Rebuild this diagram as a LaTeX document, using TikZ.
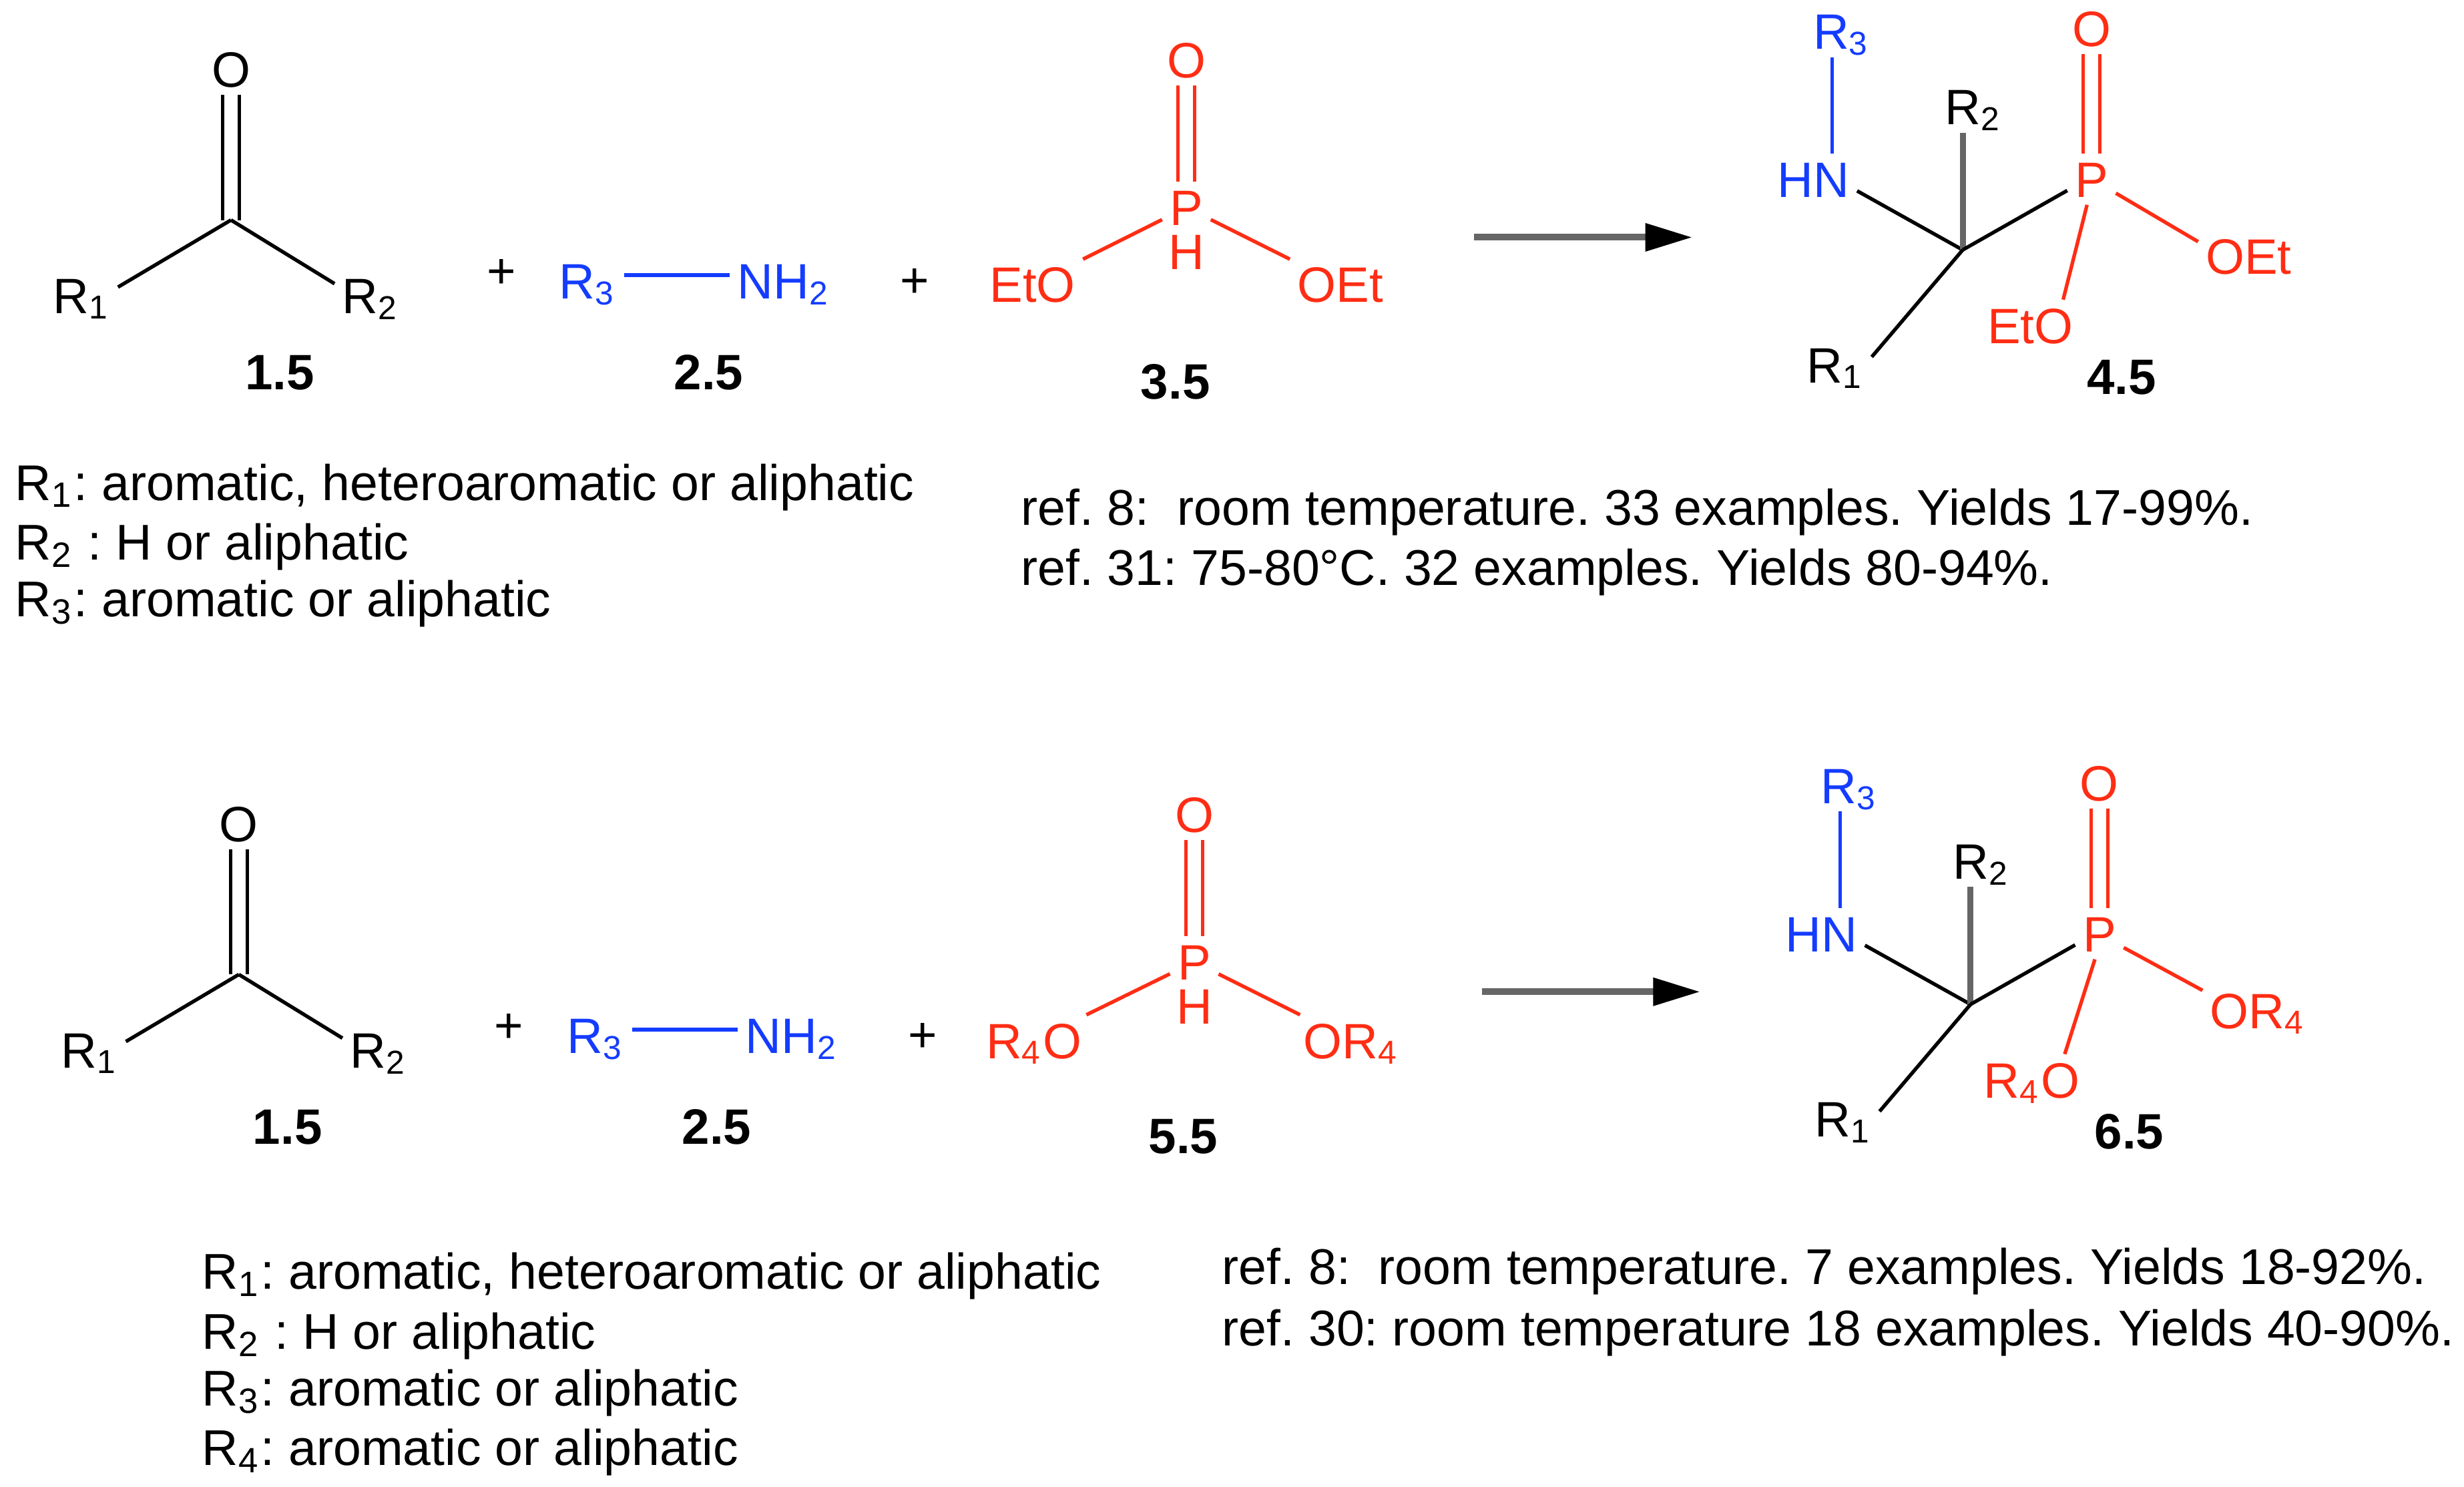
\documentclass[tikz,border=0pt]{standalone}
\usepackage{fontspec}
\setmainfont{Liberation Sans}
\usetikzlibrary{arrows.meta}
\frenchspacing
\definecolor{A}{RGB}{20,60,255}
\definecolor{P}{RGB}{255,45,20}
\newcommand{\Rsub}[2]{#1\textsubscript{#2}}
\newcommand{\drawbond}{\draw[line width=.65pt]}
\newcommand{\drawdouble}{\draw[line width=.6pt,double,double distance=.085cm]}
\newcommand{\drawscheme}[7]{
  \begin{scope}[shift={(#1,#2)},name prefix=#3]
    \node[atom] (kO) at (147,44) {O};
    \coordinate (kC) at (147,140);
    \node[atom] (kR1) at (52,188) {\Rsub{R}{1}};
    \node[atom] (kR2) at (236,188) {\Rsub{R}{2}};
    \drawdouble (kO) -- (kC);
    \drawbond (kR1.13) -- (kC);
    \drawbond (kR2.162) -- (kC);
    \node[atom] at (319,172) (plusa) {+};
    \node[atom,text=A,text height=8.5pt] (aR3) at (374,175) {\Rsub{R}{3}};
    \node[atom,text=A,text height=8.5pt] (aN) at (499,175) {NH\textsubscript{2}};
    \drawbond[A] (aR3) -- (aN);
    \node[atom] at (582,178) (plusb) {+};
    \node[atom,text=P] (pO) at (755,38) {O};
    \node[atom,text=P] (pP) at (755,132) {P};
    \node[atom,text=P] (pH) at (755,160) {H};
    \node[atom,text=P] (pL) at (#4) {#5};
    \node[atom,text=P] (pR) at (#6) {#7};
    \drawdouble[P] (pO) -- (pP);
    \drawbond[P] (pL) -- (pP);
    \drawbond[P] (pP) -- (pR);
    \node[cpd] (c1) at (178,237) {1.5};
    \node[cpd] (c2) at (451,237) {2.5};
    \node[cpd] (c3) at (748,243) {\schemeC};
    \coordinate (ra) at (938,151);
    \coordinate (rb) at (1077,151);
    \draw[-{Triangle[length=.3cm,width=.17cm,color=black]},line width=1.2pt,black!60] (ra) -- (rb);
    \coordinate (dC) at (1249,159);
    \node[atom,text=A] (dR3) at (1172,20) {\Rsub{R}{3}};
    \node[atom,text=A] (dN) at (1154,114) {HN};
    \node[atom] (dR2) at (1256,68) {\Rsub{R}{2}};
    \node[atom] (dR1) at (1168,232) {\Rsub{R}{1}};
    \node[atom,text=P] (dP) at (1331,114) {P};
    \node[atom,text=P] (dO) at (1331,18) {O};
    \node[atom,text=P] (dR) at (\schemeE) {\schemeF};
    \node[atom,text=P] (dL) at (\schemeG) {\schemeH};
    \node[cpd] (c4) at (1350,240) {\schemeD};
    \drawbond[A] ([xshift=.12cm]dN.north |- dR3.south) -- ([xshift=.12cm]dN.north);
    \drawbond (dN.-15) -- (dC);
    \draw[line width=1.1pt,black!60] (dC |- dR2.south) -- (dC);
    \drawbond (dP.-155) -- (dC);
    \drawbond (dR1.12) -- (dC);
    \drawdouble[P] (dO) -- (dP);
    \drawbond[P] (dP.-30) -- (dR.\schemeI);
    \drawbond[P] (dP.-100) -- (dL.38);
  \end{scope}
}
\tikzset{
  atom/.style={inner sep=1.2pt,font=\fontsize{9}{10}\selectfont,text height=6.5pt,text depth=0pt},
  cpd/.style={inner sep=0pt,font=\fontsize{9}{10}\selectfont\bfseries},
  legend/.style={inner sep=0pt,anchor=west,font=\fontsize{9.09}{10}\selectfont}
}
\begin{document}
\begin{tikzpicture}[x=.01cm,y=-.01cm]
\useasboundingbox (0,0) rectangle (1568,946);
\newcommand{\schemeC}{3.5}\newcommand{\schemeD}{4.5}
\newcommand{\schemeE}{1431,163}\newcommand{\schemeF}{OEt}
\newcommand{\schemeG}{1292,207}\newcommand{\schemeH}{EtO}
\newcommand{\schemeI}{164}
\drawscheme{0}{0}{a-}{657,181}{EtO}{853,181}{OEt}
\renewcommand{\schemeC}{5.5}\renewcommand{\schemeD}{6.5}
\renewcommand{\schemeE}{1432,163}\renewcommand{\schemeF}{OR\textsubscript{4}}
\renewcommand{\schemeG}{1288,207}\renewcommand{\schemeH}{R\textsubscript{4}O}
\renewcommand{\schemeI}{160}
\drawscheme{5}{480}{b-}{653,182}{R\textsubscript{4}O}{855,182}{OR\textsubscript{4}}
\node[legend] (la) at (9,310) {\Rsub{R}{1}: aromatic, heteroaromatic or aliphatic};
\node[legend] (lb) at (9,348) {\Rsub{R}{2} : H or aliphatic};
\node[legend] (lc) at (9,384) {\Rsub{R}{3}: aromatic or aliphatic};
\node[legend] (ra) at (649,326) {ref. 8:\ \ room temperature. 33 examples. Yields 17-99\%.};
\node[legend] (rb) at (649,364) {ref. 31: 75-80°C. 32 examples. Yields 80-94\%.};
\node[legend] (ma) at (128,812) {\Rsub{R}{1}: aromatic, heteroaromatic or aliphatic};
\node[legend] (mb) at (128,850) {\Rsub{R}{2} : H or aliphatic};
\node[legend] (mc) at (128,886) {\Rsub{R}{3}: aromatic or aliphatic};
\node[legend] (md) at (128,924) {\Rsub{R}{4}: aromatic or aliphatic};
\node[legend] (sa) at (777,809) {ref. 8:\ \ room temperature. 7 examples. Yields 18-92\%.};
\node[legend] (sb) at (777,848) {ref. 30: room temperature 18 examples. Yields 40-90\%.};
\end{tikzpicture}
\end{document}
